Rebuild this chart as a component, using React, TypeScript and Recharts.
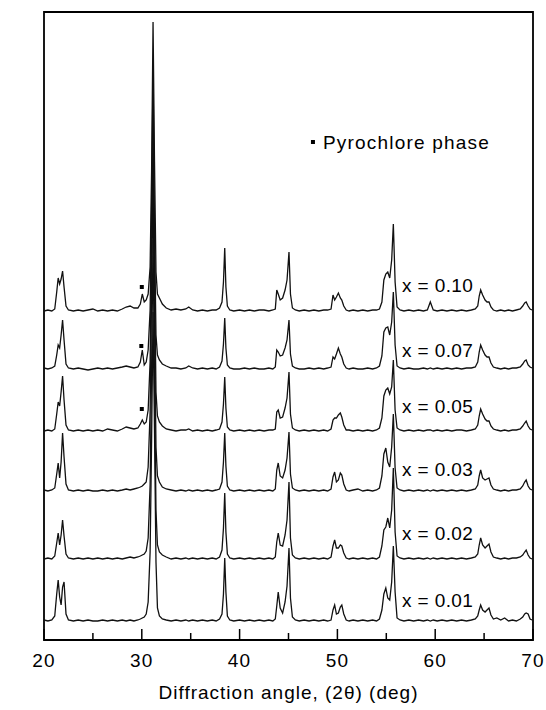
import {
  LineChart,
  Line,
  XAxis,
  YAxis,
  Label,
  ReferenceArea,
  ReferenceDot,
} from "recharts";

// 2-theta grid shared by every pattern
const ANGLES = [
  20.0, 20.4, 20.8, 21.1, 21.3, 21.45, 21.6, 21.75, 21.9, 22.05,
  22.25, 22.5, 23.0, 23.5, 24.0, 24.5, 25.0, 25.5, 26.0, 26.5,
  27.0, 27.5, 28.0, 28.4, 28.8, 29.2, 29.6, 29.85, 30.05, 30.25,
  30.45, 30.65, 30.85, 31.0, 31.15, 31.3, 31.45, 31.6, 31.8, 32.1,
  32.5, 33.0, 33.5, 34.0, 34.5, 34.8, 35.2, 35.7, 36.2, 36.7,
  37.2, 37.6, 37.95, 38.2, 38.35, 38.48, 38.6, 38.75, 39.0, 39.4,
  40.0, 40.5, 41.0, 41.5, 42.0, 42.5, 43.0, 43.4, 43.65, 43.8,
  43.95, 44.15, 44.4, 44.65, 44.85, 45.05, 45.2, 45.4, 45.7, 46.1,
  46.6, 47.1, 47.6, 48.1, 48.6, 49.0, 49.35, 49.55, 49.72, 49.9,
  50.1, 50.3, 50.45, 50.65, 50.9, 51.2, 51.6, 52.1, 52.6, 53.1,
  53.6, 54.0, 54.3, 54.55, 54.75, 54.95, 55.15, 55.35, 55.55, 55.72,
  55.9, 56.1, 56.4, 56.8, 57.3, 57.8, 58.3, 58.8, 59.2, 59.5,
  59.8, 60.2, 60.7, 61.2, 61.7, 62.2, 62.7, 63.2, 63.7, 64.1,
  64.35, 64.5, 64.65, 64.85, 65.1, 65.3, 65.5, 65.7, 65.95, 66.3,
  66.7, 67.1, 67.5, 67.9, 68.3, 68.7, 68.95, 69.15, 69.3, 69.5,
  69.7, 69.9,
];

// intensities (a.u.) above each pattern's own baseline
const X001 = [
  2, 1, 2, 6, 28, 42, 25, 17, 35, 40,
  8, 2, 1, 2, 1, 2, 1, 1, 2, 1,
  2, 1, 2, 1, 2, 1, 2, 3, 4, 5,
  8, 20, 70, 180, 310, 190, 60, 14, 6, 3,
  2, 1, 2, 1, 2, 1, 2, 1, 2, 1,
  2, 1, 3, 8, 28, 64, 30, 6, 2, 1,
  2, 1, 2, 1, 2, 1, 2, 1, 3, 16,
  30, 14, 9, 20, 36, 74, 24, 5, 2, 1,
  2, 1, 2, 1, 2, 1, 2, 12, 17, 8,
  9, 15, 17, 8, 2, 1, 2, 1, 2, 1,
  2, 1, 3, 12, 28, 34, 24, 22, 40, 76,
  30, 4, 2, 1, 2, 1, 2, 1, 2, 1,
  2, 1, 2, 1, 2, 1, 2, 1, 2, 3,
  6, 12, 17, 12, 10, 12, 14, 7, 3, 4,
  2, 4, 1, 2, 1, 3, 5, 8, 9, 8,
  3, 2,
];
const X002 = [
  1, 2, 1, 4, 17, 27, 15, 25, 40, 24,
  6, 2, 1, 2, 1, 2, 1, 2, 1, 2,
  1, 2, 1, 2, 3, 2, 3, 4, 5, 6,
  9, 22, 75, 190, 320, 180, 50, 15, 8, 5,
  3, 1, 2, 1, 2, 1, 2, 1, 2, 1,
  2, 1, 3, 10, 32, 67, 28, 6, 2, 1,
  2, 1, 2, 1, 2, 1, 2, 1, 3, 18,
  27, 15, 14, 25, 40, 78, 22, 5, 2, 1,
  2, 1, 2, 1, 2, 1, 3, 14, 20, 12,
  12, 15, 14, 7, 2, 1, 2, 1, 2, 1,
  2, 1, 3, 14, 30, 33, 42, 32, 50, 92,
  28, 4, 2, 1, 2, 1, 2, 1, 2, 1,
  2, 1, 2, 1, 2, 1, 2, 1, 2, 3,
  6, 15, 22, 15, 12, 14, 16, 8, 3, 2,
  1, 2, 1, 2, 2, 3, 5, 8, 10, 5,
  2, 1,
];
const X003 = [
  2, 1, 2, 4, 18, 29, 14, 30, 59, 35,
  8, 2, 1, 2, 1, 2, 1, 1, 2, 1,
  2, 1, 2, 3, 2, 3, 4, 5, 6, 8,
  10, 25, 80, 200, 310, 170, 45, 16, 10, 5,
  3, 2, 1, 2, 1, 2, 1, 2, 1, 2,
  1, 2, 3, 10, 30, 59, 26, 6, 2, 1,
  2, 1, 2, 1, 2, 1, 2, 1, 3, 22,
  29, 16, 14, 22, 34, 60, 18, 4, 2, 1,
  2, 1, 2, 1, 2, 1, 3, 15, 20, 10,
  12, 19, 17, 8, 2, 1, 2, 3, 1, 2,
  1, 2, 4, 16, 38, 44, 30, 25, 45, 78,
  24, 4, 2, 1, 2, 1, 2, 1, 2, 1,
  2, 1, 2, 1, 2, 1, 2, 1, 2, 3,
  7, 16, 22, 14, 12, 13, 14, 7, 3, 2,
  1, 2, 1, 2, 2, 3, 6, 10, 12, 6,
  3, 2,
];
const X005 = [
  1, 2, 1, 3, 18, 30, 26, 40, 56, 32,
  7, 2, 1, 2, 1, 2, 1, 2, 1, 3,
  2, 1, 3, 5, 4, 3, 4, 8, 12, 8,
  10, 22, 70, 180, 300, 160, 40, 16, 10, 6,
  3, 2, 1, 2, 2, 3, 1, 2, 1, 2,
  1, 2, 3, 10, 28, 55, 24, 5, 2, 1,
  2, 1, 2, 1, 2, 1, 2, 2, 3, 20,
  22, 14, 15, 24, 34, 60, 18, 4, 2, 1,
  2, 1, 2, 1, 2, 1, 3, 12, 14, 14,
  17, 19, 15, 7, 2, 2, 1, 2, 1, 2,
  1, 2, 4, 14, 36, 42, 44, 38, 45, 72,
  22, 4, 2, 1, 2, 1, 2, 1, 2, 2,
  1, 2, 1, 2, 1, 2, 2, 1, 2, 3,
  7, 16, 23, 18, 13, 11, 11, 6, 3, 2,
  1, 2, 1, 2, 2, 3, 6, 9, 11, 6,
  3, 2,
];
const X007 = [
  2, 1, 2, 4, 15, 25, 22, 35, 50, 30,
  6, 2, 1, 2, 1, 0, 1, 2, 1, 2,
  1, 2, 3, 4, 3, 2, 3, 8, 20, 5,
  8, 20, 60, 160, 300, 140, 35, 15, 10, 6,
  4, 2, 2, 1, 2, 4, 2, 1, 2, 1,
  2, 1, 3, 9, 26, 52, 22, 5, 2, 1,
  1, 2, 1, 2, 1, 1, 2, 1, 3, 20,
  18, 14, 15, 22, 30, 50, 16, 4, 2, 1,
  1, 2, 1, 2, 1, 2, 3, 13, 11, 16,
  22, 16, 13, 6, 2, 1, 2, 1, 1, 2,
  1, 2, 4, 14, 38, 42, 43, 35, 48, 78,
  25, 4, 2, 1, 2, 1, 1, 2, 1, 2,
  1, 2, 1, 2, 1, 2, 1, 2, 2, 3,
  8, 18, 25, 20, 15, 13, 13, 7, 3, 2,
  1, 2, 1, 2, 2, 3, 6, 9, 10, 5,
  3, 2,
];
const X010 = [
  1, 2, 1, 3, 20, 34, 28, 33, 41, 25,
  6, 2, 1, 2, 1, 2, 3, 1, 2, 1,
  2, 1, 3, 5, 6, 4, 4, 8, 18, 10,
  12, 18, 45, 140, 290, 150, 40, 18, 14, 8,
  4, 2, 3, 2, 3, 5, 2, 1, 2, 1,
  2, 2, 4, 10, 30, 64, 25, 6, 2, 1,
  2, 1, 2, 1, 2, 2, 1, 2, 3, 22,
  18, 12, 14, 22, 32, 60, 18, 4, 2, 1,
  2, 1, 2, 1, 2, 2, 3, 17, 12, 15,
  19, 14, 12, 6, 2, 1, 2, 1, 2, 1,
  2, 2, 3, 10, 32, 38, 40, 34, 52, 88,
  30, 5, 2, 1, 2, 1, 2, 1, 2, 10,
  2, 1, 2, 1, 2, 1, 2, 1, 2, 3,
  6, 16, 22, 17, 12, 10, 10, 5, 2, 1,
  2, 1, 2, 1, 2, 3, 6, 9, 10, 6,
  3, 2,
];

const PATTERNS = [X001, X002, X003, X005, X007, X010];
const LABELS = ["x = 0.01", "x = 0.02", "x = 0.03", "x = 0.05", "x = 0.07", "x = 0.10"];
// vertical shift of each pattern in the stack
const OFFSETS = [18, 80, 148, 208, 270, 328];
// where the composition labels sit (angle, intensity)
const LABEL_ANGLE = 56.7;
const LABEL_LEVEL = [40, 107, 171, 234, 290, 355];

// pyrochlore reflection markers (x = 0.05, 0.07, 0.10)
const PYRO_ANGLE = [30.0, 29.95, 30.0];
const PYRO_LEVEL = [231, 294, 353];

const TICKS = [20, 25, 30, 35, 40, 45, 50, 55, 60, 65, 70];

const rows = ANGLES.map((angle, i) => {
  const row: Record<string, number> = { angle };
  PATTERNS.forEach((p, k) => {
    row[`s${k}`] = p[i] + OFFSETS[k];
  });
  return row;
});

const FONT = "'Liberation Sans', Arial, Helvetica, sans-serif";

const AngleTick = ({ x, y, payload }: any) => {
  const major = payload.value % 10 === 0;
  return (
    <g>
      <line x1={x} x2={x} y1={y} y2={y - (major ? 11 : 7)} stroke="#000" strokeWidth={1.5} />
      {major && (
        <text
          x={x}
          y={y + 27}
          textAnchor="middle"
          fontSize={19}
          letterSpacing={1.2}
          fontFamily={FONT}
          fill="#000"
        >
          {payload.value}
        </text>
      )}
    </g>
  );
};

const Square = ({ cx, cy }: any) => (
  <rect x={cx - 2} y={cy - 2} width={4} height={4} fill="#000" />
);

const App = () => {
  return (
    <div style={{ position: "absolute", left: 0, top: 0 }}>
      <LineChart
        width={546}
        height={710}
        data={rows}
        margin={{ top: 12, right: 13, bottom: 10, left: 44 }}
      >
        <XAxis
          dataKey="angle"
          type="number"
          domain={[20, 70]}
          ticks={TICKS}
          interval={0}
          allowDataOverflow
          axisLine={false}
          tickSize={0}
          tickMargin={0}
          tick={<AngleTick />}
          height={60}
        >
          <Label
            content={({ viewBox }: any) => (
              <text
                x={viewBox.x + viewBox.width / 2}
                y={viewBox.y + 59}
                textAnchor="middle"
                fontSize={19}
                letterSpacing={1}
                fontFamily={FONT}
                fill="#000"
              >
                Diffraction angle, (2θ) (deg)
              </text>
            )}
          />
        </XAxis>
        <YAxis
          type="number"
          domain={[0, 628]}
          allowDataOverflow
          width={0}
          tick={false}
          tickLine={false}
          axisLine={false}
        >
          <Label
            content={({ viewBox }: any) => {
              const cx = viewBox.x - 23;
              const cy = viewBox.y + viewBox.height / 2;
              return (
                <text
                  x={cx}
                  y={cy}
                  transform={`rotate(-90 ${cx} ${cy})`}
                  textAnchor="middle"
                  dominantBaseline="central"
                  fontSize={19}
                  letterSpacing={0.8}
                  fontFamily={FONT}
                  fill="#000"
                >
                  Intensity, (A.u)
                </text>
              );
            }}
          />
        </YAxis>
        <ReferenceArea
          x1={20}
          x2={70}
          y1={0}
          y2={628}
          fill="none"
          stroke="#000"
          strokeWidth={1.8}
          ifOverflow="visible"
        />
        {PATTERNS.map((_, k) => (
          <Line
            key={k}
            dataKey={`s${k}`}
            type="linear"
            stroke="#111"
            strokeWidth={1.3}
            dot={false}
            isAnimationActive={false}
          />
        ))}
        {LABELS.map((label, k) => (
          <ReferenceDot
            key={label}
            x={LABEL_ANGLE}
            y={LABEL_LEVEL[k]}
            r={1}
            fill="none"
            stroke="none"
            ifOverflow="visible"
            label={({ viewBox }: any) => (
              <text
                x={viewBox.x}
                y={viewBox.y + viewBox.height / 2}
                dominantBaseline="central"
                fontSize={19}
                letterSpacing={0.4}
                fontFamily={FONT}
                fill="#000"
              >
                {label}
              </text>
            )}
          />
        ))}
        {PYRO_ANGLE.map((a, k) => (
          <ReferenceDot
            key={`p${k}`}
            x={a}
            y={PYRO_LEVEL[k]}
            r={2}
            shape={<Square />}
            ifOverflow="visible"
          />
        ))}
        <ReferenceDot
          x={47.5}
          y={498}
          r={2}
          shape={<Square />}
          ifOverflow="visible"
          label={({ viewBox }: any) => (
            <text
              x={viewBox.x + viewBox.width + 8}
              y={viewBox.y + viewBox.height / 2}
              dominantBaseline="central"
              fontSize={19}
              letterSpacing={1.2}
              fontFamily={FONT}
              fill="#000"
            >
              Pyrochlore phase
            </text>
          )}
        />
      </LineChart>
    </div>
  );
};

export default App;
